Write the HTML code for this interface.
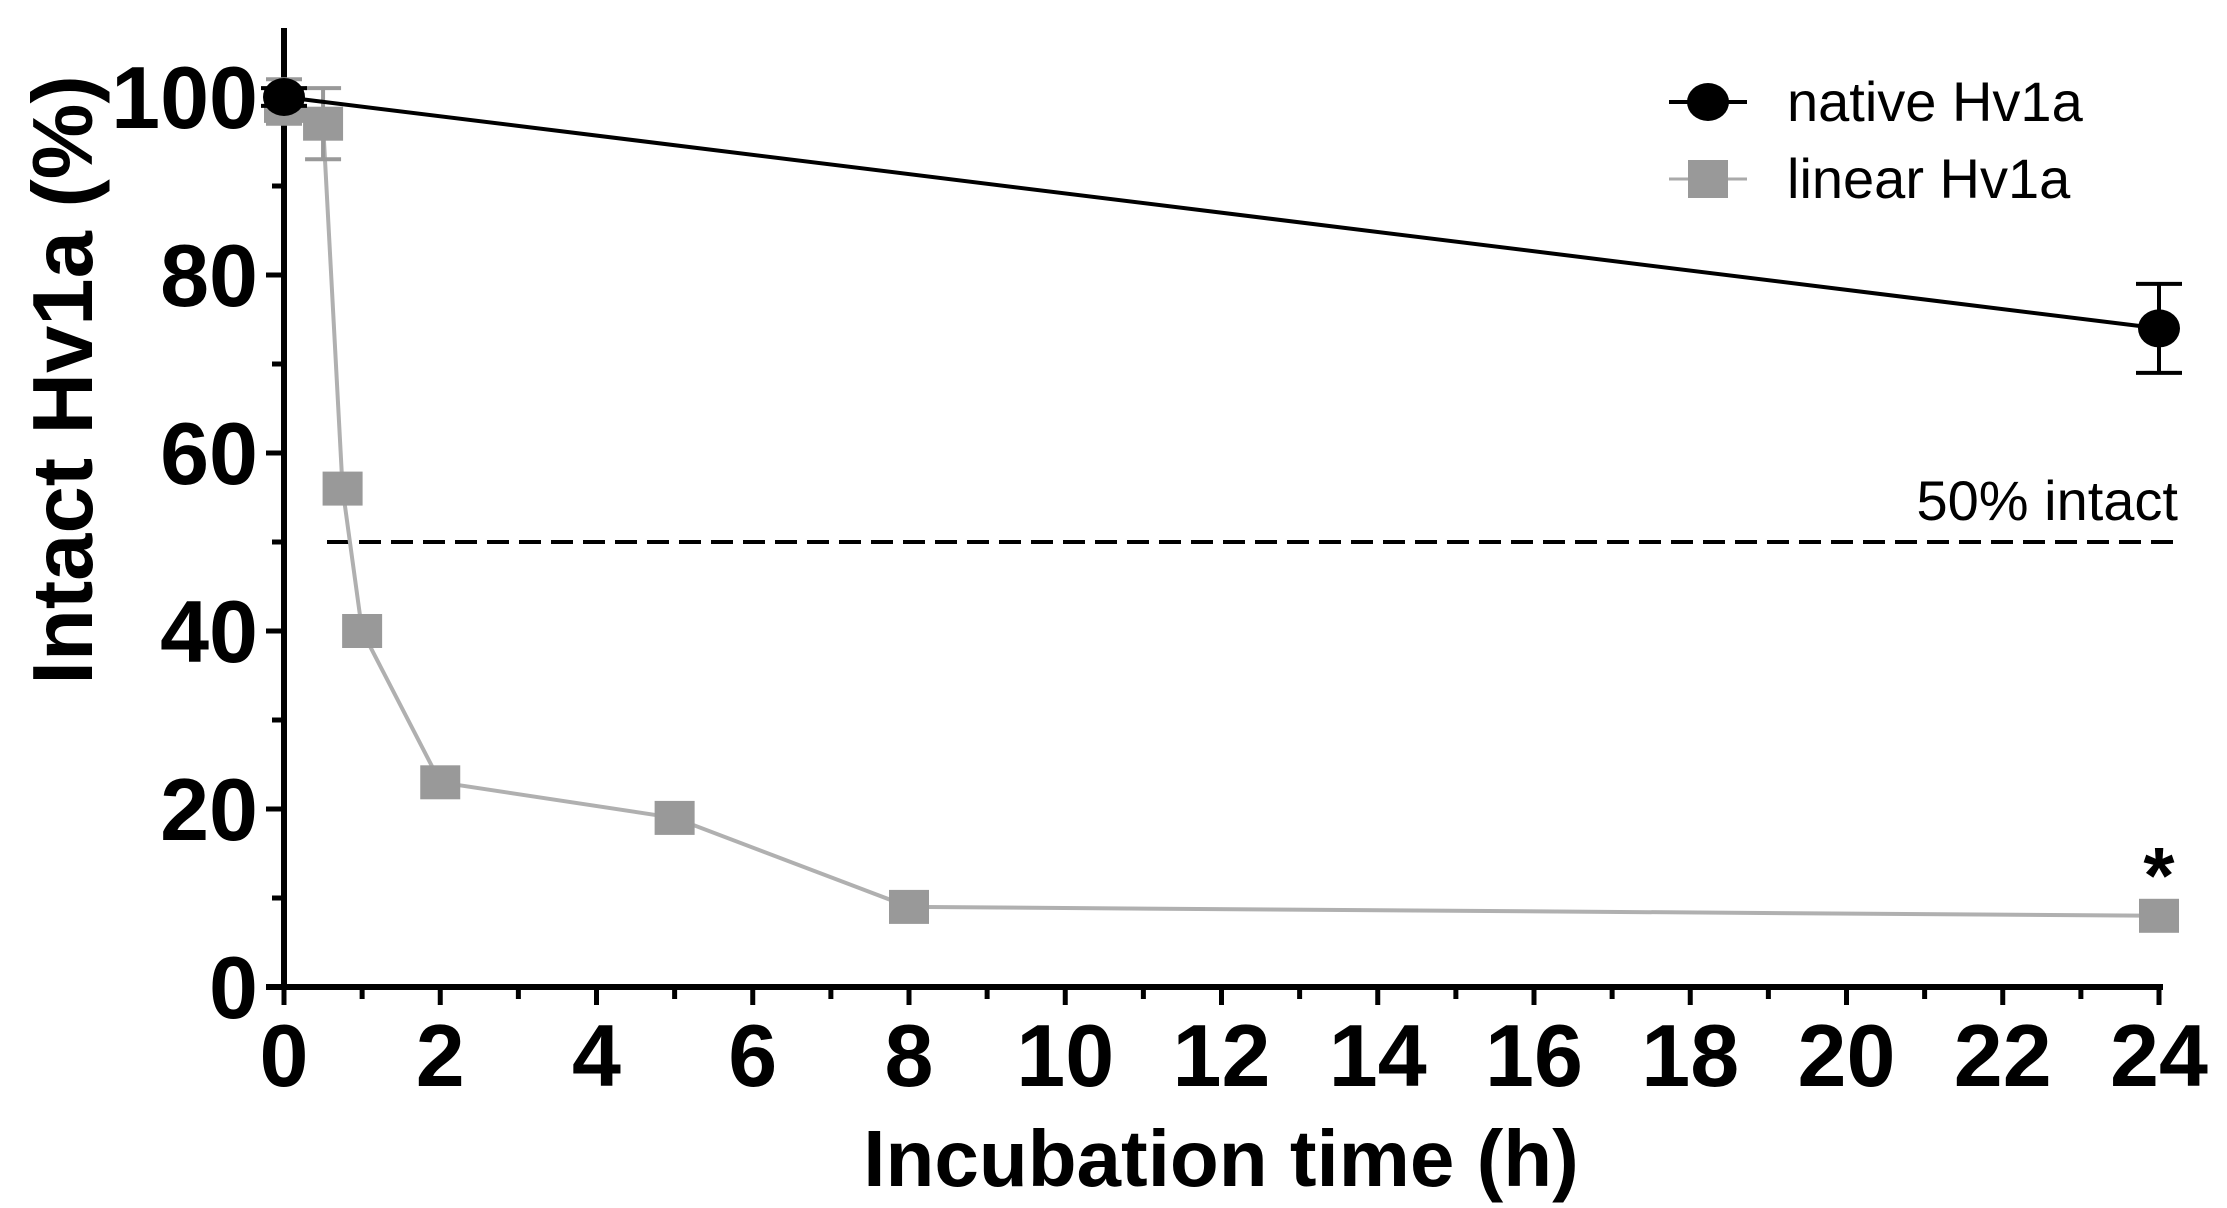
<!DOCTYPE html>
<html><head><meta charset="utf-8"><style>
body{margin:0;background:#fff}
svg{display:block;font-family:"Liberation Sans",Arial,sans-serif}
</style></head><body>
<svg id="chart" width="2227" height="1208" viewBox="0 0 2227 1208"></svg>
<script>
const xTicks=[0,2,4,6,8,10,12,14,16,18,20,22,24];
const yTicks=[0,20,40,60,80,100];
const nativeTimes=[0,24];
const nativeValues=[100,74];
const nativeErrLow=[99,69];
const nativeErrHigh=[101,79];
const linearTimes=[0,0.5,0.75,1,2,5,8,24];
const linearValues=[99,97,56,40,23,19,9,8];
const linearErrLow=[97,93,55,39,22,18,8,7];
const linearErrHigh=[102,101,57,41,24,20,10,9];
const refValue=50;

const NS="http://www.w3.org/2000/svg";
const svg=document.getElementById('chart');
const X0=284,X1=2159,Y0=987,Y1=97;
const sx=v=>X0+(v-0)/(24-0)*(X1-X0);
const sy=v=>Y0-(v-0)/(100-0)*(Y0-Y1);
function mk(tag,attrs,parent){const e=document.createElementNS(NS,tag);for(const k in attrs)e.setAttribute(k,attrs[k]);(parent||svg).appendChild(e);return e;}

const ax=mk('g',{});


mk('line',{x1:X0,y1:28,x2:X0,y2:Y0+3,stroke:'#000','stroke-width':6},ax);
mk('line',{x1:X0-18,y1:Y0,x2:X1+4,y2:Y0,stroke:'#000','stroke-width':6},ax);
for(let v=0;v<=100;v+=10){const major=v%20===0;mk('line',{x1:X0-(major?18:12),y1:sy(v),x2:X0,y2:sy(v),stroke:'#000','stroke-width':5},ax);}
for(let v=0;v<=24;v+=1){const major=v%2===0;mk('line',{x1:sx(v),y1:Y0,x2:sx(v),y2:Y0+(major?18:12),stroke:'#000','stroke-width':5},ax);}
yTicks.forEach(v=>{const t=mk('text',{x:258,y:sy(v)+31,'text-anchor':'end','font-size':88,'font-weight':'bold'});t.textContent=v;

});
xTicks.forEach(v=>{const t=mk('text',{x:sx(v),y:1086,'text-anchor':'middle','font-size':88,'font-weight':'bold'});t.textContent=v;

});
const xt=mk('text',{x:1221,y:1186,'text-anchor':'middle','font-size':80,'font-weight':'bold'});xt.textContent='Incubation time (h)';


const yt=mk('text',{x:0,y:0,'text-anchor':'middle','font-size':85,'font-weight':'bold',transform:'translate(92,380) rotate(-90)'});yt.textContent='Intact Hv1a (%)';



const rl=mk('line',{x1:327,y1:sy(refValue),x2:2180,y2:sy(refValue),stroke:'#000','stroke-width':4,'stroke-dasharray':'22 10'});


const rlt=mk('text',{x:2178,y:520,'text-anchor':'end','font-size':56});rlt.textContent='50% intact';



const lin=mk('g',{});


mk('polyline',{points:linearTimes.map((t,i)=>sx(t)+','+sy(linearValues[i])).join(' '),fill:'none',stroke:'#b0b0b0','stroke-width':4},lin);
linearTimes.forEach((t,i)=>{
  mk('line',{x1:sx(t),y1:sy(linearErrLow[i]),x2:sx(t),y2:sy(linearErrHigh[i]),stroke:'#999','stroke-width':4},lin);
  mk('line',{x1:sx(t)-18,y1:sy(linearErrLow[i]),x2:sx(t)+18,y2:sy(linearErrLow[i]),stroke:'#999','stroke-width':4},lin);
  mk('line',{x1:sx(t)-18,y1:sy(linearErrHigh[i]),x2:sx(t)+18,y2:sy(linearErrHigh[i]),stroke:'#999','stroke-width':4},lin);
  const r=mk('rect',{x:sx(t)-20,y:sy(linearValues[i])-17,width:40,height:34,fill:'#999'},lin);
  
  
});

const nat=mk('g',{});


mk('polyline',{points:nativeTimes.map((t,i)=>sx(t)+','+sy(nativeValues[i])).join(' '),fill:'none',stroke:'#000','stroke-width':4},nat);
nativeTimes.forEach((t,i)=>{
  mk('line',{x1:sx(t),y1:sy(nativeErrLow[i]),x2:sx(t),y2:sy(nativeErrHigh[i]),stroke:'#000','stroke-width':4},nat);
  mk('line',{x1:sx(t)-23,y1:sy(nativeErrLow[i]),x2:sx(t)+23,y2:sy(nativeErrLow[i]),stroke:'#000','stroke-width':4},nat);
  mk('line',{x1:sx(t)-23,y1:sy(nativeErrHigh[i]),x2:sx(t)+23,y2:sy(nativeErrHigh[i]),stroke:'#000','stroke-width':4},nat);
  const c=mk('ellipse',{cx:sx(t),cy:sy(nativeValues[i]),rx:21,ry:19,fill:'#000'},nat);
  
  
});

const ast=mk('text',{x:sx(24),y:sy(linearValues[7])-13,'text-anchor':'middle','font-size':80,'font-weight':'bold'});
ast.textContent='*';



const lg=mk('g',{});


mk('line',{x1:1669,y1:102,x2:1747,y2:102,stroke:'#000','stroke-width':4},lg);
mk('ellipse',{cx:1708,cy:102,rx:21,ry:19,fill:'#000'},lg);
const l1=mk('text',{x:1787,y:121,'font-size':56},lg);l1.textContent='native Hv1a';


mk('line',{x1:1669,y1:179,x2:1747,y2:179,stroke:'#aaa','stroke-width':3},lg);
mk('rect',{x:1688,y:160,width:40,height:38,fill:'#999'},lg);
const l2=mk('text',{x:1787,y:198,'font-size':56},lg);l2.textContent='linear Hv1a';


</script>
</body></html>
